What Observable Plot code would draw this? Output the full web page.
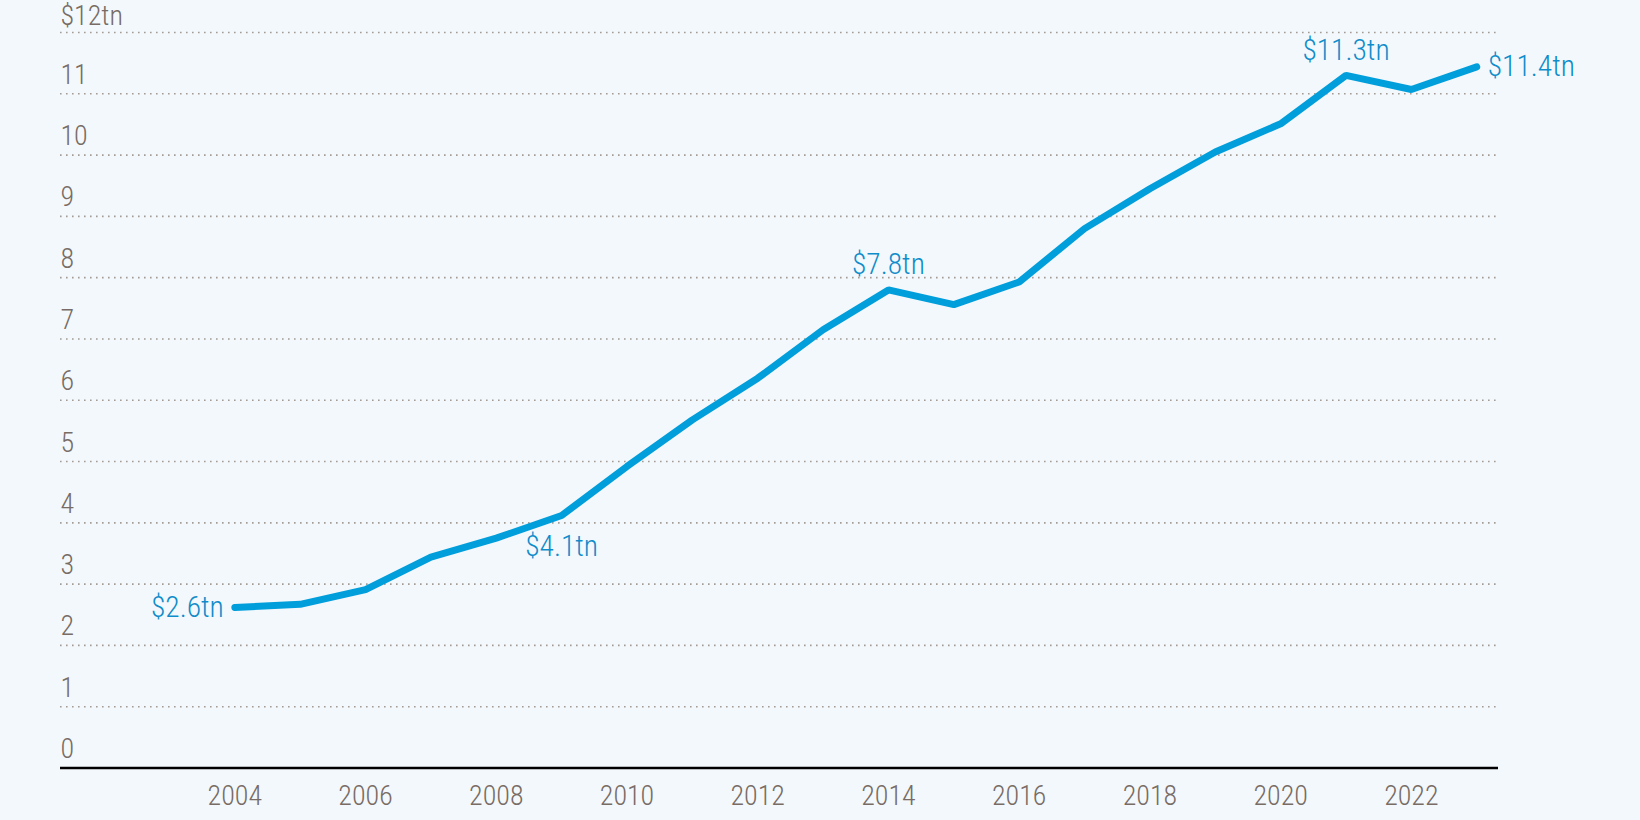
<!DOCTYPE html>
<html>
<head>
<meta charset="utf-8">
<script src="https://cdn.jsdelivr.net/npm/d3@7"></script>
<script src="https://cdn.jsdelivr.net/npm/@observablehq/plot@0.6"></script>
<style>
  html, body { margin: 0; padding: 0; background: #f3f8fc; }
  #chart svg { display: block; }
</style>
</head>
<body>
<div id="chart"></div>
<script>
// Data
const years = [2004, 2005, 2006, 2007, 2008, 2009, 2010, 2011, 2012, 2013, 2014, 2015, 2016, 2017, 2018, 2019, 2020, 2021, 2022, 2023];
const values = [2.62, 2.67, 2.91, 3.44, 3.75, 4.12, 4.92, 5.68, 6.36, 7.15, 7.80, 7.56, 7.93, 8.80, 9.45, 10.05, 10.51, 11.30, 11.07, 11.44];

const labelYears = [2004, 2009, 2014, 2021, 2023];
const labelTexts = ["$2.6tn", "$4.1tn", "$7.8tn", "$11.3tn", "$11.4tn"];
const labelPlacement = ["left", "below", "above", "above", "right"];

const yTicks = [0, 1, 2, 3, 4, 5, 6, 7, 8, 9, 10, 11, 12];
const yTickLabels = ["0", "1", "2", "3", "4", "5", "6", "7", "8", "9", "10", "11", "$12tn"];
const xTicks = [2004, 2006, 2008, 2010, 2012, 2014, 2016, 2018, 2020, 2022];

const series = years.map((year, i) => ({year, value: values[i]}));
const labels = labelYears.map((year, i) => ({
  year, value: values[years.indexOf(year)], text: labelTexts[i], place: labelPlacement[i]
}));
const yLabelData = yTicks.map((v, i) => ({v, label: yTickLabels[i]}));
const topTick = yTicks[yTicks.length - 1];

const FONT = "'Roboto Condensed', 'Liberation Sans Narrow', 'DejaVu Sans Condensed', sans-serif";
const GREY = "#786c65";
const BLUE = "#0f8cca";
const LINE = "#009edb";

const chart = Plot.plot({
  width: 1640,
  height: 820,
  marginTop: 32,
  marginBottom: 52.5,
  marginLeft: 60,
  marginRight: 142,
  style: {background: "#f3f8fc", fontFamily: FONT},
  x: {domain: [2001.333, 2023.333], axis: null},
  y: {domain: [0, 12], axis: null},
  marks: [
    Plot.ruleY(yTicks.filter(d => d > 0), {stroke: "#a39b94", strokeWidth: 1.6, strokeDasharray: "1.6,4.4"}),
    Plot.ruleY([0], {stroke: "#000", strokeWidth: 2.6}),
    Plot.text(yLabelData.filter(d => d.v !== topTick), {
      y: "v", text: "label", frameAnchor: "left", textAnchor: "start",
      lineAnchor: "bottom", dy: -10, fontSize: 28, fill: GREY, fontWeight: 300
    }),
    Plot.text(yLabelData.filter(d => d.v === topTick), {
      y: "v", text: "label", frameAnchor: "left", textAnchor: "start",
      lineAnchor: "bottom", dy: -8, fontSize: 28, fill: GREY, fontWeight: 300
    }),
    Plot.axisX({
      ticks: xTicks, tickSize: 0, tickPadding: 17, tickFormat: d => String(d),
      fontSize: 28, color: GREY, fontWeight: 300, label: null
    }),
    Plot.line(series, {
      x: "year", y: "value", stroke: LINE, strokeWidth: 7,
      strokeLinecap: "round", strokeLinejoin: "miter"
    }),
    Plot.text(labels.filter(d => d.place === "left"), {
      x: "year", y: "value", text: "text", textAnchor: "end", dx: -11,
      fontSize: 29.5, fill: BLUE, fontWeight: 300
    }),
    Plot.text(labels.filter(d => d.place === "right"), {
      x: "year", y: "value", text: "text", textAnchor: "start", dx: 11,
      fontSize: 29.5, fill: BLUE, fontWeight: 300
    }),
    Plot.text(labels.filter(d => d.place === "above"), {
      x: "year", y: "value", text: "text", textAnchor: "middle", dy: -25,
      fontSize: 29.5, fill: BLUE, fontWeight: 300
    }),
    Plot.text(labels.filter(d => d.place === "below"), {
      x: "year", y: "value", text: "text", textAnchor: "middle", dy: 31,
      fontSize: 29.5, fill: BLUE, fontWeight: 300
    })
  ]
});

document.getElementById("chart").appendChild(chart);
</script>
</body>
</html>
